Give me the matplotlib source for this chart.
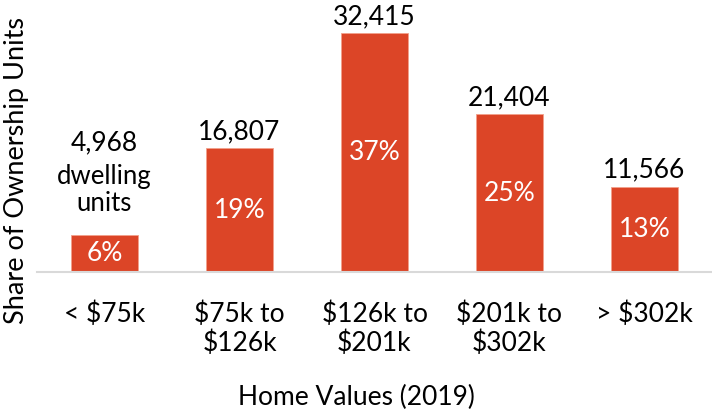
import matplotlib
matplotlib.use('Agg')
from matplotlib import pyplot as plt

categories = ['< $75k', '$75k to\n$126k', '$126k to\n$201k', '$201k to\n$302k', '> $302k']
units = [4968, 16807, 32415, 21404, 11566]
shares = ['6%', '19%', '37%', '25%', '13%']

plt.rcParams['font.family'] = ['Lato', 'DejaVu Sans']

fig = plt.figure(figsize=(7.12, 4.09), dpi=100)
ax = fig.add_axes([37 / 712, 137 / 409, 675 / 712, 272 / 409])

x = list(range(len(categories)))
ax.bar(x, units, width=0.49, color='#DC4527', edgecolor='#F2A08C', linewidth=0.6)
ax.set_xlim(-0.5, len(categories) - 0.5)
ax.set_ylim(0, 36890)

# count labels above, share labels inside
for i, v in enumerate(units):
	if i == 0:
		ax.annotate('units', (i, v), xytext=(0, 23), textcoords='offset points',
			ha='center', va='center', fontsize=18.5)
		ax.annotate('dwelling', (i, v), xytext=(0, 42.5), textcoords='offset points',
			ha='center', va='center', fontsize=18.5)
		ax.annotate(f'{v:,}', (i, v), xytext=(0, 67), textcoords='offset points',
			ha='center', va='center', fontsize=19)
	else:
		ax.annotate(f'{v:,}', (i, v), xytext=(0, 12), textcoords='offset points',
			ha='center', va='center', fontsize=19)
	ax.text(i, v / 2, shares[i], ha='center', va='center', fontsize=19, color='white')

for s in ['top', 'right', 'left']:
	ax.spines[s].set_visible(False)
ax.spines['bottom'].set_color('#D9D9D9')
ax.spines['bottom'].set_linewidth(1.5)
ax.set_yticks([])
ax.set_xticks(x)
ax.set_xticklabels(categories, fontsize=19, linespacing=1.2, va='top')
ax.tick_params(axis='x', length=0, pad=21)

fig.text(0.5, 12 / 409, 'Home Values (2019)', ha='center', va='center', fontsize=19)
fig.text(17 / 712, 1 - 170 / 409, 'Share of Ownership Units', rotation=90, ha='center', va='center', fontsize=19.5)

plt.savefig('out.png', dpi=100)
